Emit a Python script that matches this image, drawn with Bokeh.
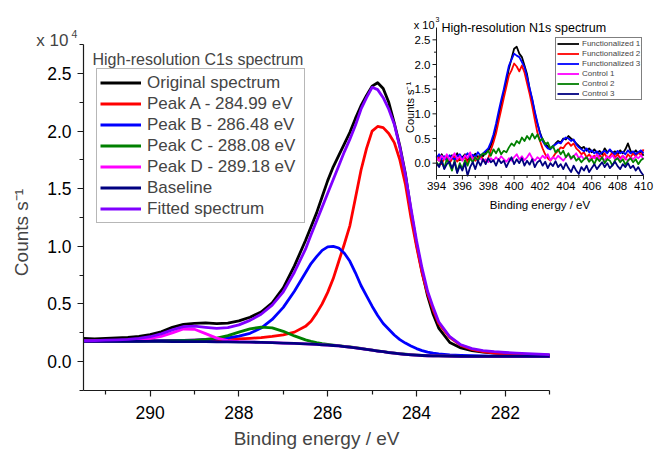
import math
from bokeh.plotting import figure
from bokeh.models import (Range1d, LinearAxis, FixedTicker, PrintfTickFormatter,
                          Label, Legend, LegendItem)
from bokeh.core.properties import value
from bokeh.embed import file_html
from bokeh.resources import INLINE

FONT = "Liberation Sans"
AXC = "#1a1a1a"

# ---------------- main panel: C1s spectrum (counts in units of 1e4) ----------------
c1s_be = [291.5, 291.25, 291.0, 290.75, 290.5, 290.25, 290.0, 289.75, 289.5, 289.25,
          289.0, 288.75, 288.5, 288.25, 288.0, 287.75, 287.5, 287.25, 287.0, 286.75,
          286.5, 286.375, 286.25, 286.125, 286.0, 285.875, 285.75, 285.625, 285.5, 285.375,
          285.25, 285.125, 285.0, 284.875, 284.75, 284.625, 284.5, 284.375, 284.25, 284.125,
          284.0, 283.875, 283.75, 283.625, 283.5, 283.25, 283.0, 282.75, 282.5, 282.25,
          282.0, 281.75, 281.5, 281.25, 281.0]
c1s_original = [0.200, 0.196, 0.201, 0.205, 0.209, 0.218, 0.233, 0.258, 0.296, 0.322,
                0.331, 0.336, 0.328, 0.334, 0.352, 0.384, 0.430, 0.510, 0.640, 0.830,
                1.05, 1.17, 1.29, 1.43, 1.57, 1.69, 1.79, 1.89, 1.99, 2.11,
                2.22, 2.31, 2.39, 2.42, 2.37, 2.25, 2.07, 1.87, 1.63, 1.31,
                1.02, 0.78, 0.57, 0.41, 0.29, 0.165, 0.118, 0.095, 0.081, 0.073,
                0.068, 0.064, 0.060, 0.057, 0.055]
c1s_peak_a = [0.178, 0.178, 0.179, 0.179, 0.180, 0.180, 0.181, 0.182, 0.183, 0.184,
              0.185, 0.187, 0.189, 0.192, 0.196, 0.201, 0.208, 0.218, 0.232, 0.255,
              0.305, 0.350, 0.420, 0.500, 0.600, 0.720, 0.870, 1.02, 1.18, 1.42,
              1.66, 1.85, 2.00, 2.04, 2.03, 1.98, 1.90, 1.75, 1.54, 1.25,
              1.00, 0.77, 0.59, 0.45, 0.33, 0.21, 0.14, 0.105, 0.085, 0.072,
              0.064, 0.058, 0.054, 0.051, 0.049]
c1s_peak_b = [0.176, 0.176, 0.177, 0.177, 0.178, 0.178, 0.179, 0.180, 0.181, 0.183,
              0.186, 0.190, 0.196, 0.205, 0.220, 0.245, 0.290, 0.365, 0.470, 0.610,
              0.770, 0.850, 0.910, 0.965, 0.995, 1.000, 0.985, 0.940, 0.870, 0.770,
              0.660, 0.570, 0.480, 0.400, 0.330, 0.280, 0.230, 0.190, 0.160, 0.135,
              0.112, 0.095, 0.082, 0.073, 0.066, 0.058, 0.053, 0.050, 0.048, 0.047,
              0.046, 0.046, 0.045, 0.045, 0.045]
c1s_peak_c = [0.176, 0.176, 0.176, 0.176, 0.176, 0.176, 0.177, 0.177, 0.178, 0.180,
              0.184, 0.191, 0.203, 0.224, 0.255, 0.283, 0.298, 0.292, 0.262, 0.222,
              0.188, 0.175, 0.164, 0.155, 0.148, 0.142, 0.137, 0.131, 0.126, 0.120,
              0.113, 0.106, 0.099, 0.092, 0.086, 0.079, 0.073, 0.068, 0.063, 0.059,
              0.056, 0.053, 0.051, 0.049, 0.048, 0.046, 0.045, 0.045, 0.045, 0.045,
              0.045, 0.045, 0.045, 0.045, 0.045]
c1s_peak_d = [0.177, 0.178, 0.179, 0.181, 0.184, 0.190, 0.200, 0.218, 0.248, 0.282,
              0.280, 0.242, 0.203, 0.182, 0.172, 0.169, 0.166, 0.163, 0.160, 0.157,
              0.153, 0.151, 0.148, 0.145, 0.142, 0.139, 0.135, 0.130, 0.125, 0.119,
              0.112, 0.105, 0.098, 0.091, 0.085, 0.078, 0.072, 0.067, 0.062, 0.058,
              0.055, 0.052, 0.050, 0.049, 0.048, 0.046, 0.045, 0.045, 0.045, 0.045,
              0.045, 0.045, 0.045, 0.045, 0.045]
c1s_baseline = [0.175, 0.175, 0.175, 0.175, 0.175, 0.174, 0.174, 0.174, 0.173, 0.173,
                0.172, 0.172, 0.171, 0.170, 0.169, 0.168, 0.166, 0.163, 0.160, 0.157,
                0.153, 0.151, 0.148, 0.145, 0.142, 0.139, 0.135, 0.130, 0.125, 0.119,
                0.112, 0.105, 0.098, 0.091, 0.085, 0.078, 0.072, 0.067, 0.062, 0.058,
                0.055, 0.052, 0.050, 0.049, 0.048, 0.046, 0.045, 0.045, 0.045, 0.045,
                0.045, 0.045, 0.045, 0.045, 0.045]
c1s_fitted = [0.180, 0.182, 0.185, 0.188, 0.192, 0.200, 0.215, 0.240, 0.275, 0.303,
              0.307, 0.297, 0.288, 0.294, 0.318, 0.357, 0.410, 0.490, 0.605, 0.775,
              0.975, 1.10, 1.22, 1.34, 1.46, 1.58, 1.70, 1.82, 1.93, 2.05,
              2.19, 2.29, 2.38, 2.36, 2.29, 2.19, 2.06, 1.86, 1.62, 1.33,
              1.05, 0.81, 0.61, 0.47, 0.345, 0.215, 0.145, 0.112, 0.095, 0.085,
              0.078, 0.073, 0.068, 0.064, 0.060]
c1s_names = ["Original spectrum", "Peak A - 284.99 eV", "Peak B - 286.48 eV",
             "Peak C - 288.08 eV", "Peak D - 289.18 eV", "Baseline", "Fitted spectrum"]
c1s_colors = ["#000000", "#ff0000", "#0000ff", "#008000", "#ff00ff", "#000080", "#8000ff"]
c1s_xticks = [282, 284, 286, 288, 290]
c1s_xminor = [281, 283, 285, 287, 289, 291]
c1s_yticks = [0.0, 0.5, 1.0, 1.5, 2.0, 2.5]
c1s_yminor = [-0.25, 0.25, 0.75, 1.25, 1.75, 2.25, 2.75]
c1s_xlim = (281.0, 291.5)
c1s_ylim = (-0.25, 2.75)

# ---------------- inset: N1s spectrum (counts in units of 1e3) ----------------
n1s_be = [394.0, 394.2, 394.4, 394.6, 394.8, 395.0, 395.2, 395.4, 395.6, 395.8,
          396.0, 396.2, 396.4, 396.6, 396.8, 397.0, 397.2, 397.4, 397.6, 397.8,
          398.0, 398.2, 398.4, 398.6, 398.8, 399.0, 399.2, 399.4, 399.6, 399.8,
          400.0, 400.2, 400.4, 400.6, 400.8, 401.0, 401.2, 401.4, 401.6, 401.8,
          402.0, 402.2, 402.4, 402.6, 402.8, 403.0, 403.2, 403.4, 403.6, 403.8,
          404.0, 404.2, 404.4, 404.6, 404.8, 405.0, 405.2, 405.4, 405.6, 405.8,
          406.0, 406.2, 406.4, 406.6, 406.8, 407.0, 407.2, 407.4, 407.6, 407.8,
          408.0, 408.2, 408.4, 408.6, 408.8, 409.0, 409.2, 409.4, 409.6, 409.8,
          410.0]
n1s_func1 = [0.15, 0.05, 0.18, 0.08, 0.14, 0.02, 0.16, 0.10, 0.20, 0.06,
             0.12, 0.18, 0.05, 0.15, 0.10, 0.19, 0.12, 0.17, 0.14, 0.22,
             0.25, 0.35, 0.50, 0.68, 0.95, 1.18, 1.42, 1.65, 1.92, 2.12,
             2.32, 2.36, 2.22, 2.15, 1.98, 1.80, 1.50, 1.28, 1.02, 0.80,
             0.62, 0.48, 0.40, 0.34, 0.30, 0.33, 0.40, 0.45, 0.42, 0.50,
             0.48, 0.55, 0.50, 0.46, 0.40, 0.35, 0.30, 0.33, 0.25, 0.30,
             0.22, 0.28, 0.20, 0.25, 0.18, 0.30, 0.22, 0.27, 0.20, 0.24,
             0.18, 0.26, 0.20, 0.28, 0.40, 0.25, 0.18, 0.26, 0.20, 0.24,
             0.15]
n1s_func2 = [0.05, 0.15, -0.02, 0.10, 0.12, 0.00, 0.08, 0.14, 0.03, 0.10,
             0.06, 0.13, 0.02, 0.09, 0.12, 0.05, 0.10, 0.15, 0.08, 0.02,
             0.10, 0.26, 0.42, 0.60, 0.85, 1.08, 1.32, 1.55, 1.78, 1.88,
             2.02, 1.96, 1.86, 1.98, 1.84, 1.62, 1.40, 1.15, 0.88, 0.62,
             0.45, 0.30, 0.18, 0.10, 0.05, 0.12, 0.20, 0.25, 0.32, 0.30,
             0.38, 0.42, 0.35, 0.40, 0.30, 0.25, 0.18, 0.22, 0.12, 0.18,
             0.10, 0.15, 0.08, 0.16, 0.12, 0.20, 0.10, 0.14, 0.22, 0.12,
             0.18, 0.10, 0.15, 0.08, 0.18, 0.12, 0.20, 0.14, 0.22, 0.16,
             0.28]
n1s_func3 = [0.10, 0.18, 0.08, 0.14, 0.05, 0.16, 0.12, 0.06, 0.15, 0.18,
             0.09, 0.14, 0.20, 0.11, 0.17, 0.13, 0.22, 0.15, 0.20, 0.25,
             0.30, 0.42, 0.58, 0.80, 1.05, 1.28, 1.50, 1.75, 1.98, 2.10,
             2.22, 2.18, 2.15, 2.05, 1.95, 1.75, 1.52, 1.30, 1.05, 0.82,
             0.60, 0.45, 0.36, 0.30, 0.28, 0.35, 0.38, 0.42, 0.40, 0.48,
             0.52, 0.50, 0.45, 0.48, 0.38, 0.32, 0.28, 0.24, 0.30, 0.22,
             0.26, 0.20, 0.24, 0.18, 0.22, 0.25, 0.20, 0.28, 0.22, 0.18,
             0.25, 0.20, 0.23, 0.18, 0.26, 0.20, 0.24, 0.18, 0.22, 0.26,
             0.20]
n1s_ctrl1 = [0.12, 0.05, 0.15, 0.08, 0.18, 0.06, 0.12, 0.20, 0.08, 0.14,
             0.05, 0.16, 0.10, 0.22, 0.08, 0.12, 0.05, 0.10, 0.04, 0.08,
             0.02, 0.10, 0.05, 0.12, 0.06, 0.14, 0.08, 0.03, 0.10, 0.05,
             0.12, 0.18, 0.08, 0.14, 0.06, 0.12, 0.20, 0.10, 0.05, 0.12,
             0.08, 0.15, 0.10, 0.18, 0.06, 0.12, 0.08, 0.15, 0.10, 0.05,
             0.12, 0.18, 0.08, 0.14, 0.20, 0.10, 0.15, 0.08, 0.12, 0.06,
             0.14, 0.10, 0.18, 0.08, 0.12, 0.05, 0.14, 0.10, 0.16, 0.08,
             0.12, 0.06, 0.15, 0.10, 0.05, 0.12, 0.08, 0.14, 0.10, 0.16,
             0.08]
n1s_ctrl2 = [0.02, -0.05, 0.05, -0.10, 0.08, -0.02, -0.15, 0.05, -0.18, 0.00,
             -0.12, 0.06, -0.05, 0.10, 0.02, 0.12, 0.05, 0.15, 0.20, 0.18,
             0.25, 0.15, 0.28, 0.20, 0.30, 0.18, 0.25, 0.22, 0.32, 0.40,
             0.35, 0.45, 0.40, 0.52, 0.45, 0.55, 0.48, 0.60, 0.50, 0.58,
             0.45, 0.50, 0.38, 0.42, 0.30, 0.35, 0.22, 0.28, 0.18, 0.25,
             0.12, 0.20, 0.10, 0.15, 0.05, 0.10, 0.02, 0.08, 0.12, 0.03,
             0.08, -0.02, 0.10, 0.04, 0.12, 0.00, 0.08, 0.05, -0.05, 0.06,
             0.10, 0.02, 0.08, -0.03, 0.05, 0.10, 0.02, 0.08, -0.02, 0.06,
             0.10]
n1s_ctrl3 = [0.00, -0.08, 0.05, -0.12, -0.02, 0.03, -0.10, 0.02, -0.20, -0.05,
             -0.15, 0.00, -0.25, -0.08, 0.02, -0.12, 0.05, -0.05, 0.08, -0.02,
             0.10, 0.02, 0.06, -0.05, 0.08, 0.00, 0.05, -0.08, 0.03, 0.12,
             -0.02, 0.08, 0.00, 0.10, -0.05, 0.05, -0.03, 0.08, -0.08, 0.02,
             0.06, -0.05, 0.03, -0.10, 0.00, -0.06, 0.04, -0.08, -0.02, -0.12,
             0.00, -0.10, -0.18, -0.05, -0.15, -0.22, -0.08, -0.15, -0.05, -0.18,
             -0.10, -0.02, -0.12, -0.05, 0.02, -0.08, 0.00, -0.10, -0.04, 0.03,
             -0.06, -0.12, -0.02, -0.08, 0.00, -0.10, -0.05, -0.15, -0.08, -0.18,
             -0.25]
n1s_names = ["Functionalized 1", "Functionalized 2", "Functionalized 3",
             "Control 1", "Control 2", "Control 3"]
n1s_colors = ["#000000", "#ff0000", "#0000ff", "#ff00ff", "#008000", "#000080"]
n1s_xticks = [394, 396, 398, 400, 402, 404, 406, 408, 410]
n1s_xtick_labels = ["394", "396", "398", "400", "402", "404", "406", "408", "410"]
n1s_xminor = [395, 397, 399, 401, 403, 405, 407, 409]
n1s_yticks = [0.0, 0.5, 1.0, 1.5, 2.0, 2.5]
n1s_ytick_labels = ["0.0", "0.5", "1.0", "1.5", "2.0", "2.5"]
n1s_yminor = [0.25, 0.75, 1.25, 1.75, 2.25]
n1s_xlim = (394.0, 410.0)
n1s_ylim = (-0.25, 2.75)

# ---------------- layout constants (canvas px) ----------------
W, H = 654, 450
AXL_PX = 83        # px of the main y axis (x = 291.5)
ZERO_PX = 361      # px of y = 0
PXX, PXY = 44.4, 115.2   # px per eV, px per 1e4 counts


def sx2x(sx):
    return c1s_xlim[1] - (sx - AXL_PX) / PXX


def sy2y(sy):
    return (ZERO_PX - sy) / PXY


p = figure(width=W, height=H, output_backend="svg", toolbar_location=None,
           x_range=Range1d(sx2x(0), sx2x(W)), y_range=Range1d(sy2y(H), sy2y(0)),
           x_axis_type=None, y_axis_type=None,
           min_border_left=0, min_border_right=0, min_border_top=0, min_border_bottom=0)
p.outline_line_color = None
p.background_fill_color = "white"
p.border_fill_color = "white"


def style_axis(ax, size):
    ax.axis_line_color = AXC
    ax.axis_line_width = 1.2
    ax.major_tick_line_color = AXC
    ax.minor_tick_line_color = AXC
    ax.major_tick_line_width = 1.2
    ax.minor_tick_line_width = 1.2
    ax.major_tick_in = 0
    ax.major_tick_out = 6
    ax.minor_tick_in = 0
    ax.minor_tick_out = 4
    ax.major_label_text_font = FONT
    ax.major_label_text_font_size = size
    ax.major_label_text_color = "black"


xax = LinearAxis(ticker=FixedTicker(ticks=c1s_xticks, minor_ticks=c1s_xminor),
                 bounds=c1s_xlim, fixed_location=c1s_ylim[0])
style_axis(xax, "17.5px")
xax.major_label_standoff = 10
p.add_layout(xax, "below")

yax = LinearAxis(ticker=FixedTicker(ticks=c1s_yticks, minor_ticks=c1s_yminor),
                 formatter=PrintfTickFormatter(format="%.1f"), bounds=c1s_ylim,
                 fixed_location=c1s_xlim[1])
style_axis(yax, "17.5px")
yax.major_label_standoff = 6
p.add_layout(yax, "left")

main_series = [c1s_original, c1s_peak_a, c1s_peak_b, c1s_peak_c, c1s_peak_d, c1s_baseline, c1s_fitted]
main_items = []
for ys, name, col in zip(main_series, c1s_names, c1s_colors):
    r = p.line(c1s_be, ys, line_color=col, line_width=2.8, line_join="round")
    main_items.append(LegendItem(label=name, renderers=[r]))

leg = Legend(items=main_items, location=(96, H - 223), margin=0, padding=3, spacing=0,
             glyph_width=41, glyph_height=21, label_height=21, label_width=154,
             label_standoff=6, label_text_font=FONT, label_text_font_size="17px",
             border_line_color="#707070", border_line_width=1,
             background_fill_color="white", background_fill_alpha=1.0)
p.add_layout(leg)

# main texts
p.add_layout(Label(x=c1s_xlim[1], y=c1s_ylim[1], text="x 10", text_align="right",
                   text_baseline="alphabetic", x_offset=-15, y_offset=4,
                   text_font=FONT, text_font_size="17px"))
p.add_layout(Label(x=c1s_xlim[1], y=c1s_ylim[1], text="4", text_align="left",
                   text_baseline="alphabetic", x_offset=-12, y_offset=11,
                   text_font=FONT, text_font_size="10.5px"))
p.add_layout(Label(x=c1s_xlim[1], y=c1s_ylim[1], text="High-resolution C1s spectrum",
                   text_align="left", text_baseline="alphabetic", x_offset=9, y_offset=-15,
                   text_font=FONT, text_font_size="16px"))
p.add_layout(Label(x=c1s_xlim[1], y=1.12, text="Counts s\u207b\u00b9", angle=math.pi / 2,
                   text_align="center", text_baseline="middle", x_offset=-62,
                   text_font=FONT, text_font_size="19px"))
p.add_layout(Label(x=(c1s_xlim[0] + c1s_xlim[1]) / 2, y=c1s_ylim[0], text="Binding energy / eV",
                   text_align="center", text_baseline="top", y_offset=-38,
                   text_font=FONT, text_font_size="19px"))

# ---------------- inset via sub-coordinates ----------------
IX0, IX1 = 436, 643   # px of inset x-limits
IY0, IY1 = 175, 27    # px of inset y-limits

sub = p.subplot(x_source=Range1d(*n1s_xlim), y_source=Range1d(*n1s_ylim),
                x_target=Range1d(sx2x(IX0), sx2x(IX1)),
                y_target=Range1d(sy2y(IY0), sy2y(IY1)))
ipx = (IX1 - IX0) / (n1s_xlim[1] - n1s_xlim[0])
ipy = (IY0 - IY1) / (n1s_ylim[1] - n1s_ylim[0])
xl, xh = n1s_xlim
yl, yh = n1s_ylim

inset_series = [n1s_func1, n1s_func2, n1s_func3, n1s_ctrl1, n1s_ctrl2, n1s_ctrl3]
inset_items = []
for ys, name, col in zip(inset_series, n1s_names, n1s_colors):
    r = sub.line(n1s_be, ys, line_color=col, line_width=1.8, line_join="round")
    inset_items.append(LegendItem(label=name, renderers=[r]))

# inset axes
sub.segment(x0=[xl, xl], y0=[yl, yl], x1=[xh, xl], y1=[yl, yh], line_color=AXC, line_width=1)
sub.segment(x0=n1s_xticks, y0=[yl] * len(n1s_xticks), x1=n1s_xticks,
            y1=[yl - 4 / ipy] * len(n1s_xticks), line_color=AXC, line_width=1)
sub.segment(x0=n1s_xminor, y0=[yl] * len(n1s_xminor), x1=n1s_xminor,
            y1=[yl - 2.5 / ipy] * len(n1s_xminor), line_color=AXC, line_width=1)
sub.segment(x0=[xl] * len(n1s_yticks), y0=n1s_yticks, x1=[xl - 4 / ipx] * len(n1s_yticks),
            y1=n1s_yticks, line_color=AXC, line_width=1)
sub.segment(x0=[xl] * len(n1s_yminor), y0=n1s_yminor, x1=[xl - 2.5 / ipx] * len(n1s_yminor),
            y1=n1s_yminor, line_color=AXC, line_width=1)
sub.text(x=n1s_xticks, y=[yl] * len(n1s_xticks), text=n1s_xtick_labels, text_align="center",
         text_baseline="top", y_offset=6, text_font=value(FONT), text_font_size="11.5px",
         text_color="black")
sub.text(x=[xl] * len(n1s_yticks), y=n1s_yticks, text=n1s_ytick_labels, text_align="right",
         text_baseline="middle", x_offset=-6, text_font=value(FONT), text_font_size="11.5px",
         text_color="black")
sub.text(x=[(xl + xh) / 2], y=[yl], text=["Binding energy / eV"], text_align="center",
         text_baseline="top", y_offset=23, text_font=value(FONT), text_font_size="11.5px",
         text_color="black")
sub.text(x=[xl], y=[1.13], text=["Counts s\u207b\u00b9"], angle=math.pi / 2, text_align="center",
         text_baseline="middle", x_offset=-27, text_font=value(FONT), text_font_size="11px",
         text_color="black")
sub.text(x=[xl], y=[yh], text=["High-resolution N1s spectrum"], text_align="left",
         text_baseline="alphabetic", x_offset=5, y_offset=0, text_font=value(FONT),
         text_font_size="12.5px", text_color="black")
sub.text(x=[xl], y=[yh], text=["x 10"], text_align="right", text_baseline="alphabetic",
         x_offset=-2, y_offset=-3, text_font=value(FONT), text_font_size="11px", text_color="black")
sub.text(x=[xl], y=[yh], text=["3"], text_align="left", text_baseline="alphabetic",
         x_offset=-1, y_offset=-8, text_font=value(FONT), text_font_size="7px", text_color="black")

ileg = Legend(items=inset_items, location=(555, H - 100), margin=0, padding=1, spacing=1,
              glyph_width=22, glyph_height=9, label_height=9, label_standoff=3,
              label_text_font=FONT, label_text_font_size="8px",
              border_line_color="black", border_line_width=1,
              background_fill_color="white", background_fill_alpha=1.0)
p.add_layout(ileg)

open("out.html", "w").write(file_html(p, INLINE))
